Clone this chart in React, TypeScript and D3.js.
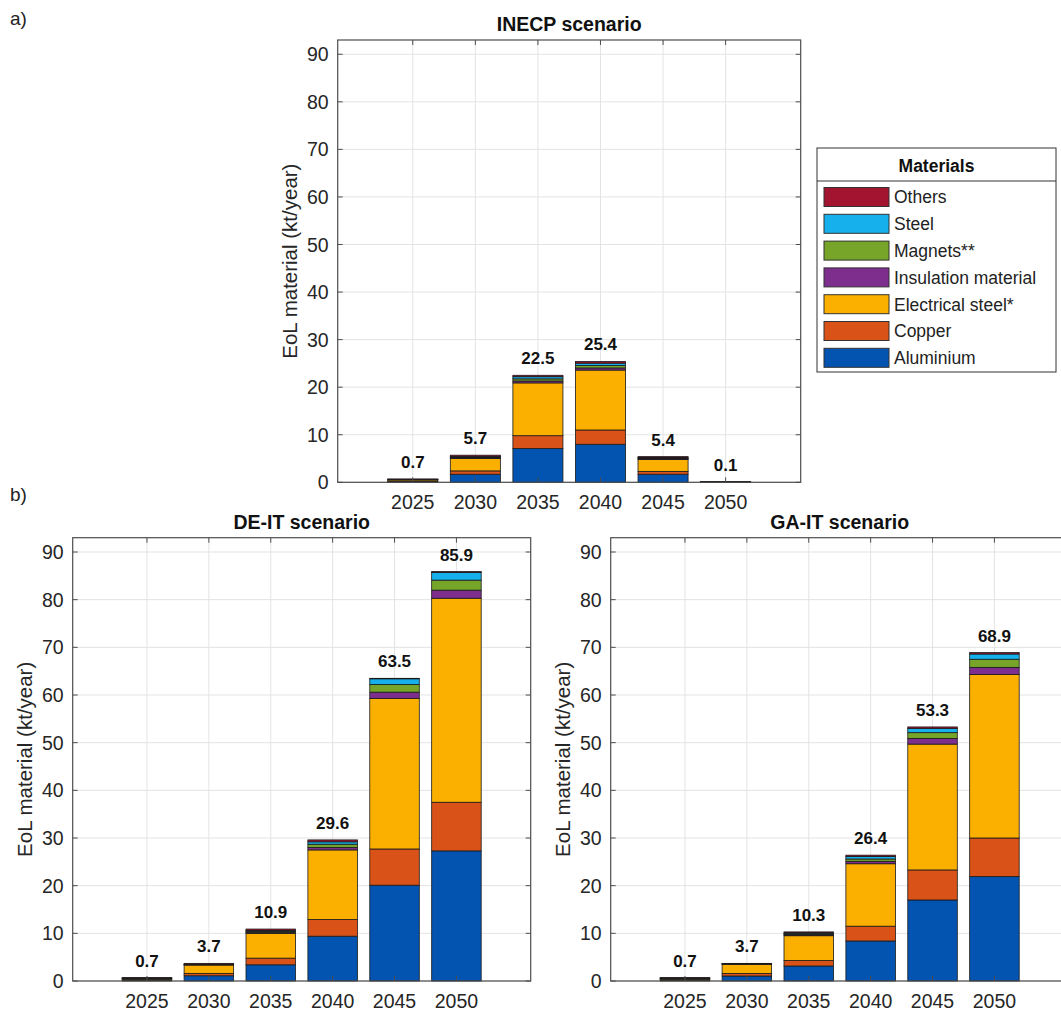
import * as d3 from 'd3'

const years = [2025, 2030, 2035, 2040, 2045, 2050]
const yTicks = [0, 10, 20, 30, 40, 50, 60, 70, 80, 90]

// stacking order, bottom to top
const materials = ['Aluminium', 'Copper', 'Electrical steel*', 'Insulation material', 'Magnets**', 'Steel', 'Others']
const colors = ['#0353b1', '#d95319', '#fbb000', '#7e2f8e', '#76a52a', '#16b1ec', '#a2142f']

// INECP scenario (kt/year)
const inecpAluminium = [0.2, 1.7, 7.1, 8.0, 1.7, 0.03]
const inecpCopper = [0.1, 0.7, 2.7, 3.0, 0.6, 0.01]
const inecpElecSteel = [0.25, 2.6, 11.1, 12.6, 2.5, 0.04]
const inecpInsulation = [0.03, 0.15, 0.4, 0.45, 0.15, 0.005]
const inecpMagnets = [0.03, 0.15, 0.45, 0.5, 0.15, 0.005]
const inecpSteel = [0.03, 0.1, 0.45, 0.5, 0.1, 0.005]
const inecpOthers = [0.06, 0.3, 0.3, 0.35, 0.2, 0.005]

// DE-IT scenario
const deAluminium = [0.2, 1.1, 3.4, 9.4, 20.1, 27.3]
const deCopper = [0.1, 0.5, 1.4, 3.5, 7.6, 10.2]
const deElecSteel = [0.25, 1.75, 5.2, 14.6, 31.6, 42.8]
const deInsulation = [0.03, 0.05, 0.2, 0.5, 1.3, 1.7]
const deMagnets = [0.03, 0.05, 0.2, 0.7, 1.6, 2.1]
const deSteel = [0.03, 0.05, 0.2, 0.5, 1.2, 1.6]
const deOthers = [0.06, 0.2, 0.3, 0.4, 0.1, 0.2]

// GA-IT scenario
const gaAluminium = [0.2, 1.05, 3.15, 8.4, 17.0, 21.9]
const gaCopper = [0.1, 0.55, 1.15, 3.1, 6.3, 8.1]
const gaElecSteel = [0.25, 1.9, 5.2, 13.1, 26.4, 34.3]
const gaInsulation = [0.03, 0.05, 0.2, 0.5, 1.2, 1.5]
const gaMagnets = [0.03, 0.05, 0.2, 0.5, 1.2, 1.7]
const gaSteel = [0.03, 0.05, 0.2, 0.5, 0.9, 1.1]
const gaOthers = [0.06, 0.05, 0.2, 0.3, 0.3, 0.3]

const FONT = 'Liberation Sans, Arial, Helvetica, sans-serif'

const toRows = (series: number[][]) =>
  years.map((yr, i) => {
    const row: any = { year: yr }
    materials.forEach((m, j) => (row[m] = series[j][i]))
    return row
  })

const Panel = ({ title, series, x0, y0, w, h }: any) => {
  const rows = toRows(series)
  const stack = d3.stack<any>().keys(materials)(rows)
  const x = d3.scaleLinear().domain([2019, 2056]).range([x0, x0 + w])
  const y = d3.scaleLinear().domain([0, 93]).range([y0 + h, y0])
  const bw = x(2024) - x(2020)
  const tick = 5
  const axisCol = '#4d4d4d'

  return (
    <g fontFamily={FONT}>
      {/* grid */}
      {yTicks.map(t => (
        <line key={'gy' + t} x1={x0} x2={x0 + w} y1={y(t)} y2={y(t)} stroke="#e3e3e3" strokeWidth={1} />
      ))}
      {years.map(t => (
        <line key={'gx' + t} x1={x(t)} x2={x(t)} y1={y0} y2={y0 + h} stroke="#e3e3e3" strokeWidth={1} />
      ))}
      {/* bars */}
      {stack.map((layer, li) => (
        <g key={layer.key} fill={colors[li]}>
          {layer.map((d, i) => (
            <rect
              key={i}
              x={x(years[i]) - bw / 2}
              y={y(d[1])}
              width={bw}
              height={Math.max(0, y(d[0]) - y(d[1]))}
              stroke="#1a1a1a"
              strokeWidth={0.8}
            />
          ))}
        </g>
      ))}
      {/* totals */}
      {rows.map((r, i) => {
        const total = d3.sum(materials, m => r[m])
        return (
          <text key={'t' + i} x={x(years[i])} y={y(total) - 11} textAnchor="middle" fontSize={17} fontWeight="bold" fill="#111">
            {total.toFixed(1)}
          </text>
        )
      })}
      {/* box and ticks */}
      <rect x={x0} y={y0} width={w} height={h} fill="none" stroke={axisCol} strokeWidth={1.2} />
      {yTicks.map(t => (
        <g key={'ty' + t}>
          <line x1={x0} x2={x0 + tick} y1={y(t)} y2={y(t)} stroke={axisCol} />
          <line x1={x0 + w} x2={x0 + w - tick} y1={y(t)} y2={y(t)} stroke={axisCol} />
          <text x={x0 - 9} y={y(t)} dy="0.36em" textAnchor="end" fontSize={19.5} fill="#262626">
            {t}
          </text>
        </g>
      ))}
      {years.map(t => (
        <g key={'tx' + t}>
          <line x1={x(t)} x2={x(t)} y1={y0 + h} y2={y0 + h - tick} stroke={axisCol} />
          <line x1={x(t)} x2={x(t)} y1={y0} y2={y0 + tick} stroke={axisCol} />
          <text x={x(t)} y={y0 + h + 27} textAnchor="middle" fontSize={19.5} fill="#262626">
            {t}
          </text>
        </g>
      ))}
      <text x={x0 + w / 2} y={y0 - 9} textAnchor="middle" fontSize={19.5} fontWeight="bold" fill="#111">
        {title}
      </text>
      <text
        transform={`translate(${x0 - 41},${y0 + h / 2}) rotate(-90)`}
        textAnchor="middle"
        fontSize={20.5}
        fill="#262626"
      >
        EoL material (kt/year)
      </text>
    </g>
  )
}

const Legend = ({ x0, y0 }: any) => {
  const w = 239
  const h = 224
  const items = materials.map((m, i) => ({ m, c: colors[i] })).reverse()
  return (
    <g fontFamily={FONT}>
      <rect x={x0} y={y0} width={w} height={h} fill="#fff" stroke="#333" strokeWidth={1} />
      <text x={x0 + w / 2} y={y0 + 24} textAnchor="middle" fontSize={17.5} fontWeight="bold" fill="#111">
        Materials
      </text>
      <line x1={x0} x2={x0 + w} y1={y0 + 33} y2={y0 + 33} stroke="#333" />
      {items.map((it, i) => {
        const cy = y0 + 49 + i * 26.8
        return (
          <g key={it.m}>
            <rect x={x0 + 7} y={cy - 9.5} width={65} height={19} fill={it.c} stroke="#333" strokeWidth={1} />
            <text x={x0 + 77} y={cy} dy="0.36em" fontSize={17.5} fill="#222">
              {it.m}
            </text>
          </g>
        )
      })}
    </g>
  )
}

export default function App() {
  return (
    <svg
      width={1061}
      height={1014}
      style={{ position: 'absolute', left: 0, top: 0, background: '#fff', display: 'block' }}
    >
      <rect width={1061} height={1014} fill="#fff" />
      <text x={10} y={25} fontSize={19} fontFamily={FONT} fill="#222">a)</text>
      <text x={10} y={501} fontSize={19} fontFamily={FONT} fill="#222">b)</text>
      <Panel
        title="INECP scenario"
        series={[inecpAluminium, inecpCopper, inecpElecSteel, inecpInsulation, inecpMagnets, inecpSteel, inecpOthers]}
        x0={337.7}
        y0={40}
        w={463}
        h={442.3}
      />
      <Panel
        title="DE-IT scenario"
        series={[deAluminium, deCopper, deElecSteel, deInsulation, deMagnets, deSteel, deOthers]}
        x0={72.7}
        y0={537.7}
        w={458}
        h={443.3}
      />
      <Panel
        title="GA-IT scenario"
        series={[gaAluminium, gaCopper, gaElecSteel, gaInsulation, gaMagnets, gaSteel, gaOthers]}
        x0={610.7}
        y0={537.7}
        w={458}
        h={443.3}
      />
      <Legend x0={817} y0={148} />
    </svg>
  )
}
